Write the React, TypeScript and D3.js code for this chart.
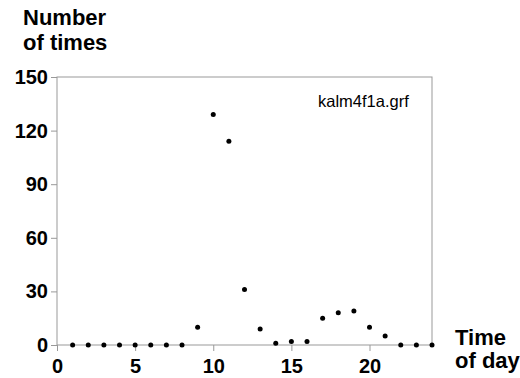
import React, { useEffect, useRef } from 'react'
import * as d3 from 'd3'

const hours = [1, 2, 3, 4, 5, 6, 7, 8, 9, 10, 11, 12, 13, 14, 15, 16, 17, 18, 19, 20, 21, 22, 23, 24]
const counts = [0, 0, 0, 0, 0, 0, 0, 0, 10, 129, 114, 31, 9, 1, 2, 2, 15, 18, 19, 10, 5, 0, 0, 0]
const yTicks = [0, 30, 60, 90, 120, 150]
const xTicks = [0, 5, 10, 15, 20]

const width = 520
const height = 378
const margin = { top: 77, right: 88, bottom: 33, left: 57 }
const font = 'Liberation Sans, Arial, sans-serif'

export default function App() {
    const ref = useRef<SVGSVGElement>(null)

    useEffect(() => {
        const svg = d3.select(ref.current)
        svg.selectAll('*').remove()

        const x = d3.scaleLinear().domain([0, 24]).range([margin.left, width - margin.right])
        const y = d3.scaleLinear().domain([0, 150]).range([height - margin.bottom, margin.top])

        // frame
        svg.append('rect')
            .attr('x', x(0))
            .attr('y', y(150))
            .attr('width', x(24) - x(0))
            .attr('height', y(0) - y(150))
            .attr('fill', 'none')
            .attr('stroke', '#999')
            .attr('stroke-width', 1)

        const yAxis = svg.append('g')
            .attr('transform', `translate(${x(0)},0)`)
            .call(d3.axisLeft(y).tickValues(yTicks).tickSize(6).tickPadding(3))
        yAxis.select('.domain').remove()
        yAxis.selectAll('line').attr('stroke', '#999')
        yAxis.selectAll('text')
            .attr('fill', '#000')
            .attr('font-family', font)
            .attr('font-weight', 'bold')
            .attr('font-size', 20)

        const xAxis = svg.append('g')
            .attr('transform', `translate(0,${y(0)})`)
            .call(d3.axisBottom(x).tickValues(xTicks).tickSize(6).tickPadding(8))
        xAxis.select('.domain').remove()
        xAxis.selectAll('line').attr('stroke', '#999')
        xAxis.selectAll('text')
            .attr('fill', '#000')
            .attr('font-family', font)
            .attr('font-weight', 'bold')
            .attr('font-size', 20)

        svg.append('g')
            .selectAll('circle')
            .data(hours)
            .join('circle')
            .attr('cx', d => x(d))
            .attr('cy', (d, i) => y(counts[i]))
            .attr('r', 2.5)
            .attr('fill', '#000')

        const label = (t: string, lx: number, ly: number, size: number, weight: string) =>
            svg.append('text')
                .attr('x', lx)
                .attr('y', ly)
                .attr('font-family', font)
                .attr('font-weight', weight)
                .attr('font-size', size)
                .attr('fill', '#000')
                .text(t)

        label('Number', 23, 25, 22, 'bold')
        label('of times', 23, 50, 22, 'bold')
        label('Time', 455, 345, 22, 'bold')
        label('of day', 455, 368, 22, 'bold')
        label('kalm4f1a.grf', 318, 107, 16.5, 'normal')
    }, [])

    return (
        <svg ref={ref} width={width} height={height}
            style={{ position: 'absolute', left: 0, top: 0, background: '#fff' }} />
    )
}
